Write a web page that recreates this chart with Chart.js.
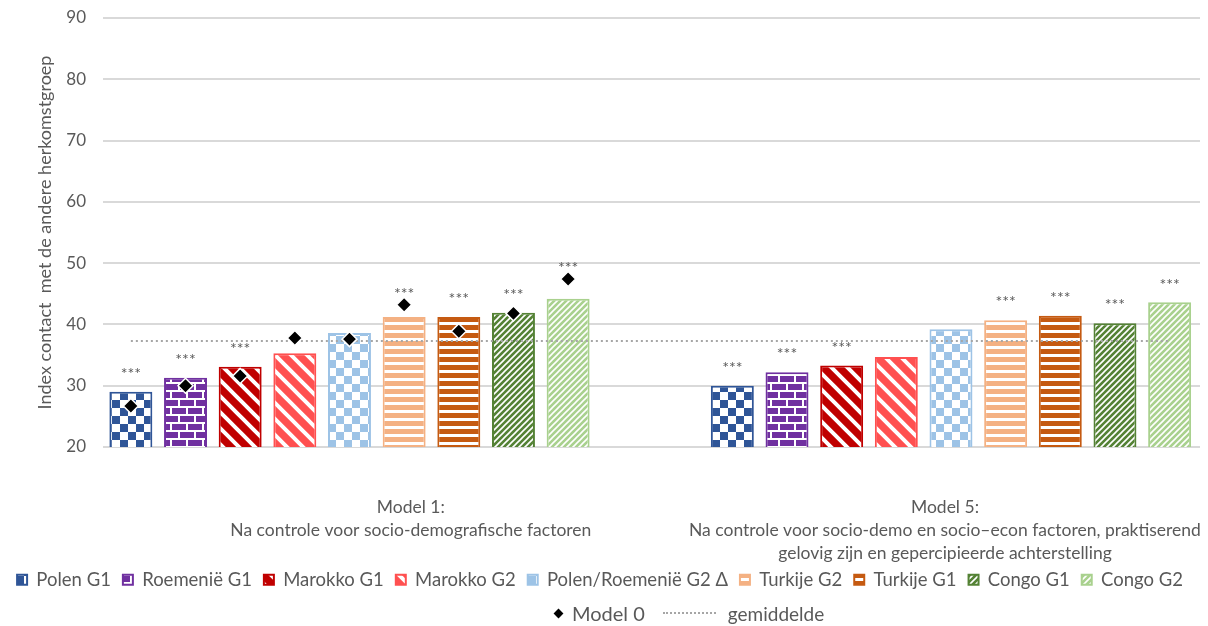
<!DOCTYPE html>
<html>
<head>
<meta charset="utf-8">
<script src="https://cdn.jsdelivr.net/npm/chart.js@4.4.1/dist/chart.umd.min.js"></script>
<style>
html, body { margin: 0; padding: 0; background: #fff; }
#wrap { position: relative; width: 1208px; height: 626px; }
#legenda2 { position: absolute; left: 552px; top: 600px; height: 26px; display: flex; align-items: center;
  font-family: Lato, sans-serif; color: #595959; }
#legenda2 .ruit { width: 7px; height: 7px; background: #000; transform: rotate(45deg); margin: 0 10px 0 3px; }
#legenda2 .model0 { font-size: 20px; }
#legenda2 .stip { width: 53px; border-top: 2px dotted #a6a6a6; margin: 0 12px 0 18px; }
#legenda2 .gem { font-size: 19px; }
</style>
</head>
<body>
<div id="wrap">
  <canvas id="grafico" width="1208" height="626"></canvas>
  <div id="legenda2">
    <span class="ruit"></span><span class="model0">Model 0</span>
    <span class="stip"></span><span class="gem">gemiddelde</span>
  </div>
</div>
<script>
// Gegevens
const groepen = [
    ['Model 1:', 'Na controle voor socio-demografische factoren'],
    ['Model 5:', 'Na controle voor socio-demo en socio–econ factoren, praktiserend', 'gelovig zijn en gepercipieerde achterstelling']
];
const reeksen = ['Polen G1', 'Roemenië G1', 'Marokko G1', 'Marokko G2', 'Polen/Roemenië G2 Δ', 'Turkije G2', 'Turkije G1', 'Congo G1', 'Congo G2'];
const model1 = [29.0, 31.3, 33.1, 35.3, 38.6, 41.2, 41.2, 41.9, 44.2];
const model5 = [30.0, 32.2, 33.3, 34.7, 39.2, 40.7, 41.4, 40.2, 43.6];
const model0 = [26.7, 30.0, 31.6, 37.8, 37.6, 43.2, 38.9, 41.8, 47.4];
const sterrenModel1 = ['***', '***', '***', '', '', '***', '***', '***', '***'];
const sterrenModel5 = ['***', '***', '***', '', '', '***', '***', '***', '***'];
const gemiddelde = 37.3;
const yMin = 20, yMax = 90, yStap = 10;

// Opmaak
const kleuren = ['#2F5597', '#7030A0', '#C00000', '#FF5050', '#9DC3E6', '#F4B183', '#C55A11', '#548235', '#A9D18E'];
const patronen = ['ruit', 'baksteen', 'diagonaal', 'diagonaal', 'ruit', 'horizontaal', 'horizontaal', 'smaldiag', 'smaldiag'];
const groepPos = [0, 1];          // plaats van de staafgroepen op de x-as
const labelPos = [0.102, 0.99];   // plaats van de groepslabels
const tekstKleur = '#595959';
const font = 'Lato';

function maakPatroon(type, kleur) {
    const c = document.createElement('canvas');
    const g = c.getContext('2d');
    if (type === 'ruit') {
        c.width = 16; c.height = 16;
        g.fillStyle = '#fff'; g.fillRect(0, 0, 16, 16);
        g.fillStyle = kleur; g.fillRect(0, 0, 8, 8); g.fillRect(8, 8, 8, 8);
    } else if (type === 'baksteen') {
        c.width = 16; c.height = 16;
        g.fillStyle = kleur; g.fillRect(0, 0, 16, 16);
        g.fillStyle = '#fff';
        g.fillRect(0, 6, 16, 2); g.fillRect(0, 14, 16, 2);
        g.fillRect(2, 0, 2, 6); g.fillRect(10, 8, 2, 6);
    } else if (type === 'diagonaal') {
        c.width = 16; c.height = 16;
        g.fillStyle = kleur; g.fillRect(0, 0, 16, 16);
        g.strokeStyle = '#fff'; g.lineWidth = 4;
        g.beginPath();
        g.moveTo(-4, -4); g.lineTo(20, 20);
        g.moveTo(-20, -4); g.lineTo(4, 20);
        g.moveTo(12, -4); g.lineTo(36, 20);
        g.stroke();
    } else if (type === 'horizontaal') {
        c.width = 8; c.height = 8;
        g.fillStyle = kleur; g.fillRect(0, 0, 8, 8);
        g.fillStyle = '#fff'; g.fillRect(0, 2, 8, 3);
    } else if (type === 'smaldiag') {
        c.width = 6; c.height = 6;
        g.fillStyle = kleur; g.fillRect(0, 0, 6, 6);
        g.strokeStyle = '#fff'; g.lineWidth = 1.6;
        g.beginPath();
        g.moveTo(-2, 8); g.lineTo(8, -2);
        g.moveTo(-8, 8); g.lineTo(2, -2);
        g.moveTo(4, 8); g.lineTo(14, -2);
        g.stroke();
    }
    return g.createPattern(c, 'repeat');
}

// Diamanten (Model 0), gemiddelde lijn en sterretjes
const extraPlugin = {
    id: 'extra',
    afterDatasetsDraw(chart) {
        const ctx = chart.ctx;
        const yAs = chart.scales.y;
        const eerste = chart.getDatasetMeta(0).data[0];
        const laatste = chart.getDatasetMeta(reeksen.length - 1).data[1];
        const yGem = yAs.getPixelForValue(gemiddelde);

        ctx.save();
        ctx.strokeStyle = '#a6a6a6';
        ctx.lineWidth = 2;
        ctx.setLineDash([2, 3]);
        ctx.beginPath();
        ctx.moveTo(eerste.x, yGem);
        ctx.lineTo(laatste.x, yGem);
        ctx.stroke();
        ctx.setLineDash([]);

        ctx.font = '16px ' + font;
        ctx.fillStyle = tekstKleur;
        ctx.textAlign = 'center';
        ctx.textBaseline = 'middle';
        for (let i = 0; i < reeksen.length; i++) {
            const meta = chart.getDatasetMeta(i);
            // groep 1 met diamant
            const s1 = meta.data[0];
            const yd = yAs.getPixelForValue(model0[i]);
            const yS1 = Math.min(s1.y - 18, yd - 11);
            ctx.fillText(sterrenModel1[i], s1.x, yS1);
            // groep 2
            const s2 = meta.data[1];
            ctx.fillText(sterrenModel5[i], s2.x, s2.y - 18);
        }

        for (let i = 0; i < reeksen.length; i++) {
            const s1 = chart.getDatasetMeta(i).data[0];
            const yd = yAs.getPixelForValue(model0[i]);
            const r = 7.5;
            ctx.beginPath();
            ctx.moveTo(s1.x, yd - r);
            ctx.lineTo(s1.x + r, yd);
            ctx.lineTo(s1.x, yd + r);
            ctx.lineTo(s1.x - r, yd);
            ctx.closePath();
            ctx.fillStyle = '#000';
            ctx.fill();
            ctx.strokeStyle = '#fff';
            ctx.lineWidth = 1.5;
            ctx.stroke();
        }
        ctx.restore();
    }
};

const datasets = [];
for (let i = 0; i < reeksen.length; i++) {
    datasets.push({
        label: reeksen[i],
        data: [
            { x: groepPos[0], y: model1[i] },
            { x: groepPos[1], y: model5[i] }
        ],
        backgroundColor: maakPatroon(patronen[i], kleuren[i]),
        borderColor: kleuren[i],
        borderWidth: 2,
        categoryPercentage: 0.921,
        barPercentage: 0.786
    });
}

Chart.defaults.font.family = font;
Chart.defaults.color = tekstKleur;

new Chart(document.getElementById('grafico'), {
    type: 'bar',
    data: { datasets: datasets },
    options: {
        responsive: false,
        animation: false,
        layout: { padding: { top: 18, right: 8, left: 0, bottom: 27 } },
        plugins: {
            tooltip: { enabled: false },
            legend: {
                position: 'bottom',
                labels: {
                    font: { size: 18.5 },
                    color: tekstKleur,
                    boxWidth: 10,
                    boxHeight: 10,
                    padding: 12
                }
            }
        },
        scales: {
            x: {
                type: 'linear',
                min: -0.4098,
                max: 1.414,
                offset: false,
                grid: { display: false, drawTicks: false },
                border: { display: false },
                afterBuildTicks: (as) => { as.ticks = labelPos.map(v => ({ value: v })); },
                afterFit: (as) => {
                    as.height = 111.5;
                    as.paddingLeft = 0;
                    as.paddingRight = 0;
                    // derde regel mag onder de as-rand doorlopen
                    as._computeLabelArea = () => undefined;
                },
                ticks: {
                    autoSkip: false,
                    maxRotation: 0,
                    padding: 49,
                    font: { size: 17.5, lineHeight: 1.3 },
                    color: tekstKleur,
                    callback: (v, i) => groepen[i]
                }
            },
            y: {
                min: yMin,
                max: yMax,
                afterFit: (as) => { as.width = 103; as.paddingTop = 0; as.paddingBottom = 0; },
                ticks: { stepSize: yStap, padding: 17, font: { size: 17 }, color: tekstKleur },
                grid: { color: '#d9d9d9', lineWidth: 2, drawTicks: false },
                border: { display: false },
                title: {
                    display: true,
                    text: 'Index contact  met de andere herkomstgroep',
                    font: { size: 18 },
                    color: tekstKleur,
                    padding: { top: 34, bottom: 0 }
                }
            }
        }
    },
    plugins: [extraPlugin]
});
</script>
</body>
</html>
